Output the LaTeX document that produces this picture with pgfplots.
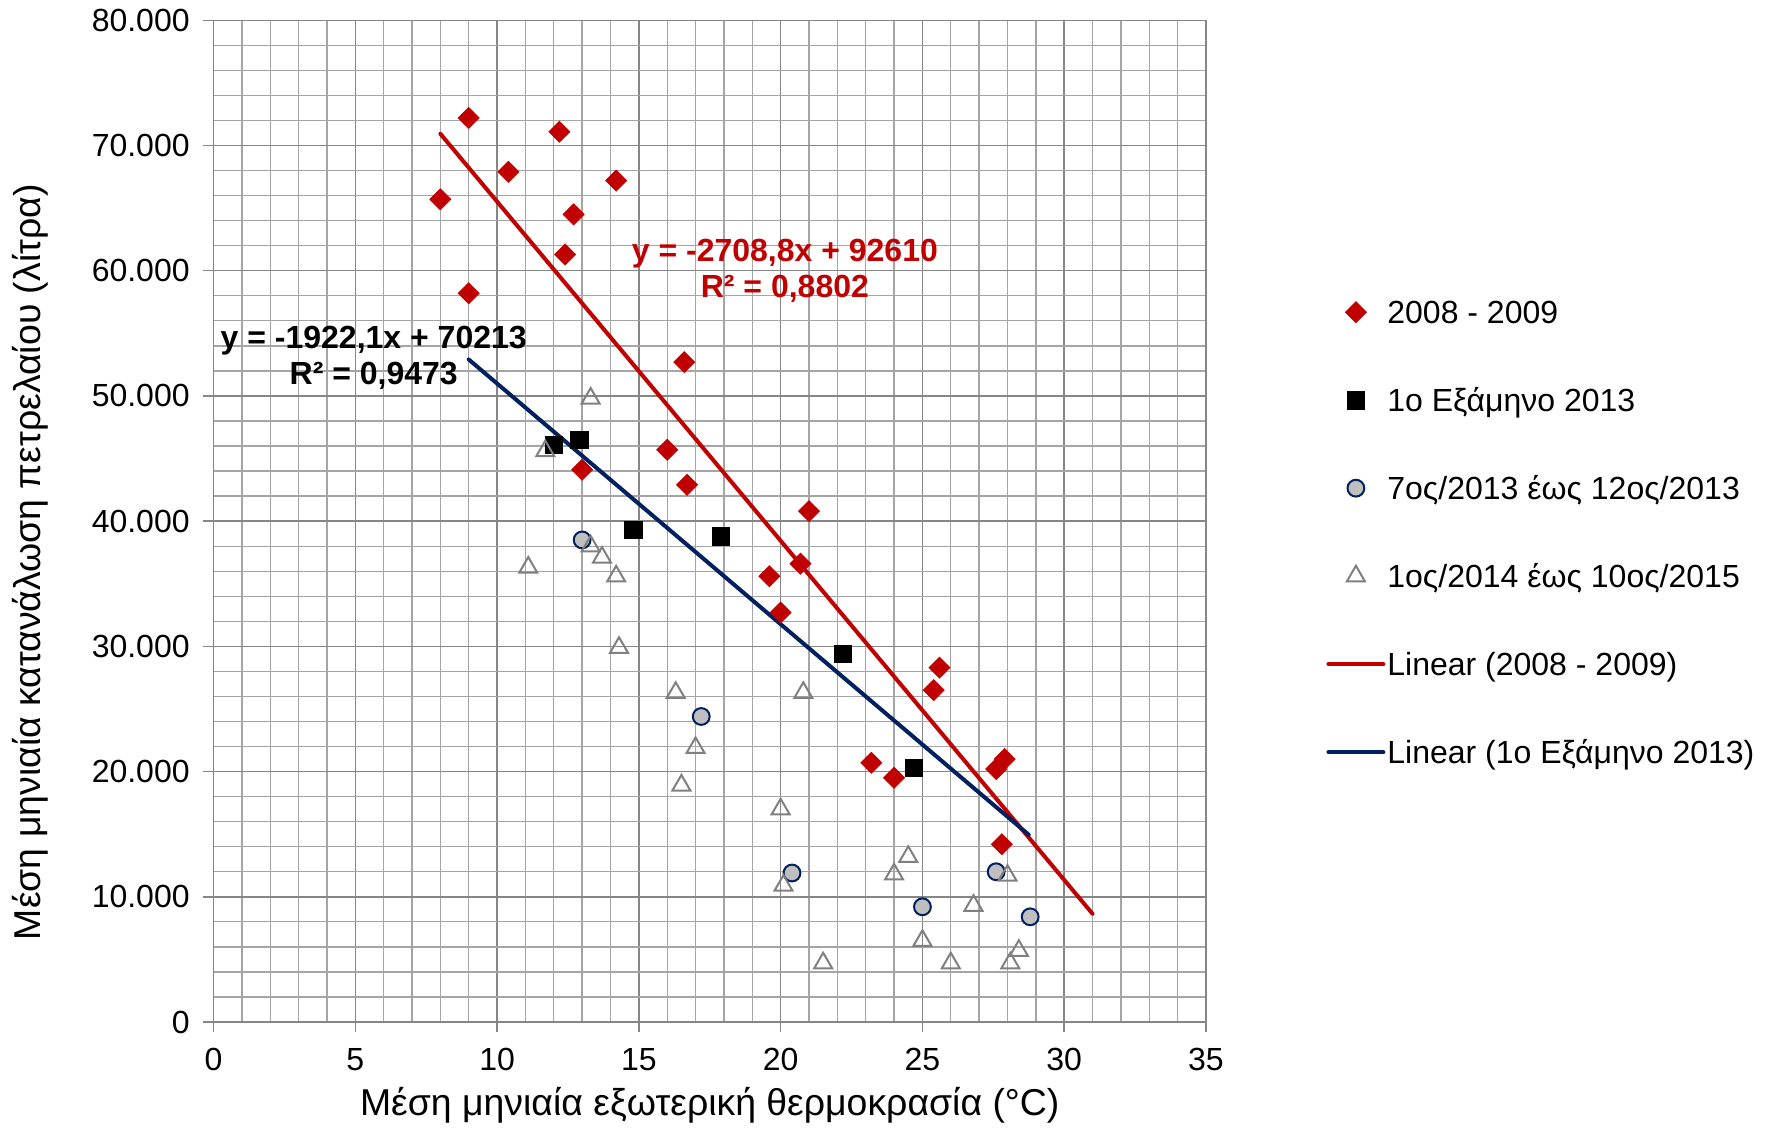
\documentclass[border=0pt]{standalone}
\usepackage{fontspec}
\setmainfont{Liberation Sans}
\usepackage{pgfplots}
\pgfplotsset{compat=1.18}

\definecolor{redd}{RGB}{192,0,0}
\definecolor{navy}{RGB}{0,32,96}
\definecolor{majgrid}{RGB}{134,134,134}
\definecolor{mingrid}{RGB}{165,165,165}
\definecolor{trigray}{RGB}{128,128,128}
\definecolor{circfill}{RGB}{191,191,191}

\pgfplotsset{
  markleg/.style={legend image code/.code={%
    \path (0pt,0pt) (27.5pt,0pt);
    \draw[mark repeat=2,mark phase=2,##1] plot coordinates {(0pt,0pt) (13.75pt,0pt) (27.5pt,0pt)};}},
  lineleg/.style={legend image code/.code={%
    \draw[##1] (0pt,0pt) -- (27.5pt,0pt);}},
}

\begin{document}
\begin{tikzpicture}
\begin{axis}[
  scale only axis,
  width=496.25pt, height=500.85pt,
  xmin=0, xmax=35, ymin=0, ymax=80000,
  xtick={0,5,...,35},
  ytick={0,10000,...,80000},
  minor x tick num=4,
  minor y tick num=4,
  grid=both,
  major grid style={majgrid, line width=0.75pt},
  minor grid style={mingrid, line width=0.65pt},
  axis line style={majgrid, line width=0.75pt},
  tick align=outside,
  major tick length=5pt,
  minor tick length=0pt,
  tick style={majgrid, line width=0.75pt},
  xtick pos=bottom, ytick pos=left,
  scaled y ticks=false,
  /pgf/number format/assume math mode=true,
  tick label style={font=\fontsize{16}{19}\selectfont},
  xticklabel style={yshift=-4.5pt},
  yticklabel style={xshift=-3.4pt, /pgf/number format/.cd, fixed, precision=0, 1000 sep={.}},
  label style={font=\fontsize{18.7}{22}\selectfont},
  xlabel={Μέση μηνιαία εξωτερική θερμοκρασία (°C)},
  ylabel={Μέση μηνιαία κατανάλωση πετρελαίου (λίτρα)},
  xlabel style={at={(axis description cs:0.5,-0.083)}, anchor=center},
  ylabel style={at={(axis description cs:-0.185,0.459)}, anchor=center},
  legend style={font=\fontsize{16}{19}\selectfont, draw=none, fill=none,
    inner sep=0pt, at={(1,0.489)}, anchor=west, xshift=60pt,
    row sep=29.2pt, column sep=1pt, cells={anchor=west}, nodes={inner sep=0pt}},
]
\coordinate (sw) at (rel axis cs:0,0);

% 2008 - 2009
\addplot[only marks, redd, mark=square*, mark size=3.7pt,
  mark options={rotate=45, fill=redd, draw=redd}, markleg] coordinates {
  (8.0,65700) (9.0,72200) (9.0,58200) (10.4,67900) (12.2,71100) (12.4,61300)
  (12.7,64500) (13.0,44100) (14.2,67200) (16.0,45700) (16.6,52700) (16.7,42900)
  (19.6,35600) (20.0,32700) (20.7,36600) (21.0,40800) (23.2,20700) (24.0,19500)
  (25.4,26500) (25.6,28300) (27.6,20200) (27.9,21000) (27.8,14200)
};
\addlegendentry{\strut 2008 - 2009}

% 1o Εξάμηνο 2013
\addplot[only marks, black, mark=square*, mark size=4.4pt, markleg] coordinates {
  (12.0,46100) (12.9,46500) (14.8,39300) (17.9,38800) (22.2,29400) (24.7,20300)
};
\addlegendentry{\strut 1o Εξάμηνο 2013}

% 7ος/2013 έως 12ος/2013
\addplot[only marks, navy, mark=*, mark size=4.2pt,
  mark options={fill=circfill, draw=navy, line width=1pt}, markleg] coordinates {
  (13.0,38500) (17.2,24400) (20.4,11900) (25.0,9200) (27.6,12000) (28.8,8400)
};
\addlegendentry{\strut 7ος/2013 έως 12ος/2013}

% 1ος/2014 έως 10ος/2015
\addplot[only marks, trigray, mark=triangle, mark size=5.2pt,
  mark options={draw=trigray, line width=1pt}, markleg] coordinates {
  (13.3,49800) (11.7,45600) (13.3,38000) (13.7,37100) (11.1,36300) (14.2,35600)
  (14.3,29900) (16.3,26300) (20.8,26300) (17.0,21900) (16.5,18900) (20.0,17000)
  (24.5,13200) (24.0,11800) (20.1,10900) (28.0,11700) (26.8,9300) (25.0,6500)
  (21.5,4700) (26.0,4700) (28.4,5700) (28.1,4700)
};
\addlegendentry{\strut 1ος/2014 έως 10ος/2015}

% trendlines
\addplot[redd, line width=2pt, line cap=round, lineleg] coordinates {(8,70939.6) (31,8637.2)};
\addlegendentry{\strut Linear (2008 - 2009)}
\addplot[navy, line width=2pt, line cap=round, lineleg] coordinates {(9,52914.1) (28.75,14952.6)};
\addlegendentry{\strut Linear (1o Εξάμηνο 2013)}

\node[redd, font=\bfseries\fontsize{16}{18}\selectfont, align=center]
  at (axis cs:20.15,59975) {y = -2708,8x + 92610\\R² = 0,8802};
\node[black, font=\bfseries\fontsize{16}{18}\selectfont, align=center]
  at (axis cs:5.65,53035) {y = -1922,1x + 70213\\R² = 0,9473};
\end{axis}
\pgfresetboundingbox
\path[use as bounding box] (sw) ++(-106.75pt,-53.5pt) rectangle ++(885.5pt,564.5pt);
\end{tikzpicture}
\end{document}
